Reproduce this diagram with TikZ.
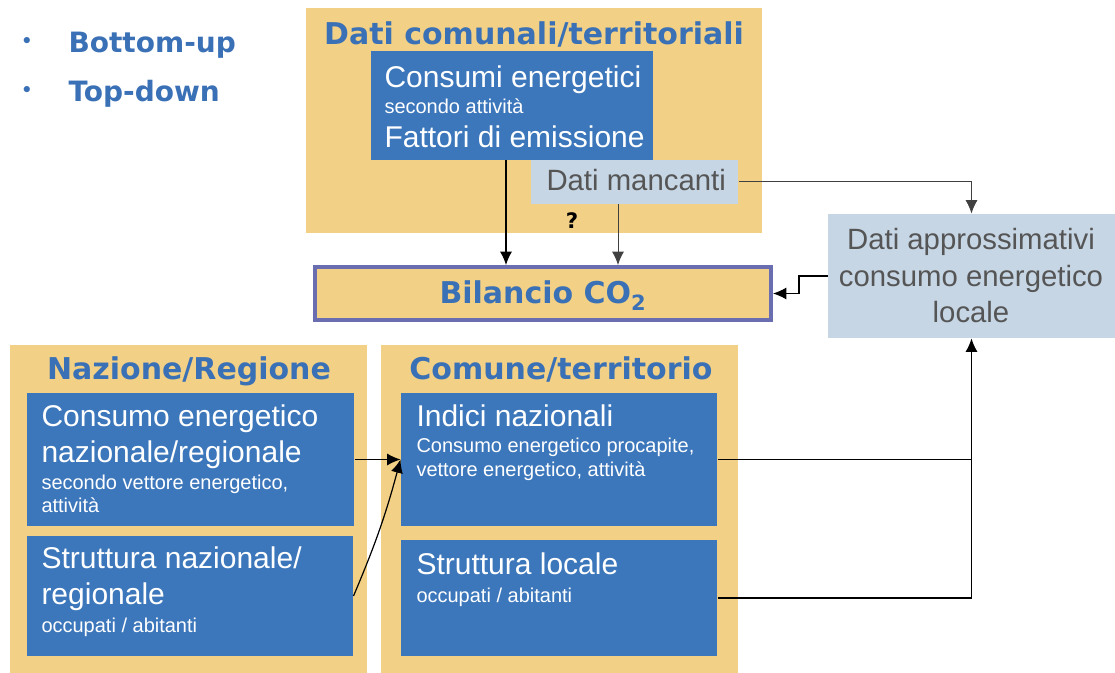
\documentclass[tikz,border=0pt]{standalone}
\usepackage{fontspec}
\setmainfont{Liberation Sans}
\newfontfamily\verdfont{DejaVu Sans}
\usetikzlibrary{fit,arrows.meta}

\definecolor{panelyellow}{RGB}{242,208,134}
\definecolor{boxblue}{RGB}{60,119,187}
\definecolor{headblue}{RGB}{58,112,181}
\definecolor{paleblue}{RGB}{198,214,229}
\definecolor{greytxt}{RGB}{85,85,85}
\definecolor{frameviolet}{RGB}{106,110,176}

\tikzset{every picture/.style={line width=0.75pt}}
\tikzset{
  panel/.style={fill=panelyellow, inner sep=0pt},
  bluebox/.style={fill=boxblue, inner sep=0pt},
  palebox/.style={fill=paleblue, inner sep=0pt},
  headtext/.style={anchor=base, inner sep=0.75pt, text=headblue,
    font=\verdfont\bfseries\fontsize{22.5}{27}\selectfont},
  bigtext/.style={anchor=base west, inner sep=0.75pt, text=white,
    font=\fontsize{22.5}{27}\selectfont},
  smalltext/.style={anchor=base west, inner sep=0.75pt, text=white,
    font=\fontsize{15}{18}\selectfont},
  greytext/.style={anchor=base, inner sep=0.75pt, text=greytxt,
    font=\fontsize{22}{27}\selectfont},
  listtext/.style={anchor=base west, inner sep=0.75pt, text=headblue,
    font=\verdfont\bfseries\fontsize{21}{25}\selectfont},
  listdot/.style={text=headblue, inner sep=0pt,
    font=\verdfont\fontsize{16}{16}\selectfont},
  flow/.style={-{Latex[length=10pt,width=9pt]}, draw=black, line width=0.9pt},
  thinflow/.style={-{Latex[length=10pt,width=9pt]}, draw=black!75, line width=0.75pt},
}

\begin{document}
\begin{tikzpicture}[x=0.75pt,y=0.75pt,yscale=-1,xscale=1]
\useasboundingbox (0,0) rectangle (1115,673);

% Bullet list
\node [listdot] (dotone) at (27,43) {•};
\node [listdot] (dottwo) at (27,92) {•};
\node [listtext] (bottomup) at (67,53) {Bottom-up};
\node [listtext] (topdown) at (67,102) {Top-down};

%Shape: Rectangle [dati comunali]
\node [panel, fit={(306,8) (762,233)}] (comunali) {};
% Text Node
\node [headtext] (comunalititle) at (534,45) {Dati comunali/territoriali};
%Shape: Rectangle [consumi]
\node [bluebox, fit={(371,51) (653,160)}] (consumi) {};
% Text Node
\node [bigtext] (consumione) at (383,87.5) {Consumi energetici};
\node [smalltext] (consumitwo) at (383,114) {secondo attività};
\node [bigtext] (consumithree) at (383,148) {Fattori di emissione};
%Shape: Rectangle [dati mancanti]
\node [palebox, fit={(531,160) (738,204)}] (mancanti) {};
% Text Node
\node [greytext, anchor=base west] (mancantitext) at (545,191) {Dati mancanti};
% Text Node
\node [anchor=base, inner sep=0.75pt, font=\verdfont\bfseries\fontsize{16}{18}\selectfont] (quest) at (572,229) {?};

%Shape: Rectangle [bilancio]
\node [fill=panelyellow, draw=frameviolet, line width=3pt, inner sep=0pt,
  fit={(315,267) (771,320)}] (bilancio) {};
% Text Node
\node [headtext] (bilanciotext) at (543,304) {Bilancio CO\textsubscript{2}};

%Shape: Rectangle [dati approssimativi]
\node [palebox, fit={(828,214) (1115,338)}] (approx) {};
% Text Node
\node [greytext] (approxone) at (971,250) {Dati approssimativi};
\node [greytext] (approxtwo) at (971,287) {consumo energetico};
\node [greytext] (approxthree) at (971,323) {locale};

%Shape: Rectangle [nazione]
\node [panel, fit={(10,345) (367,673)}] (nazione) {};
% Text Node
\node [headtext] (nazionetitle) at (189,380) {Nazione/Regione};
%Shape: Rectangle [consumo naz]
\node [bluebox, fit={(27,393) (354,526)}] (consnaz) {};
% Text Node
\node [bigtext] (consnazone) at (40,427) {Consumo energetico};
\node [bigtext] (consnaztwo) at (40,463) {nazionale/regionale};
\node [smalltext] (consnazthree) at (40,490) {secondo vettore energetico,};
\node [smalltext] (consnazfour) at (40,513) {attività};
%Shape: Rectangle [struttura naz]
\node [bluebox, fit={(27,536) (353,656)}] (strutnaz) {};
% Text Node
\node [bigtext] (strutnazone) at (40,569) {Struttura nazionale/};
\node [bigtext] (strutnaztwo) at (40,605) {regionale};
\node [smalltext] (strutnazthree) at (40,633) {occupati / abitanti};

%Shape: Rectangle [comune]
\node [panel, fit={(381,345) (738,673)}] (comune) {};
% Text Node
\node [headtext] (comunetitle) at (561,380) {Comune/territorio};
%Shape: Rectangle [indici]
\node [bluebox, fit={(401,393) (717,526)}] (indici) {};
% Text Node
\node [bigtext] (indicione) at (415,427) {Indici nazionali};
\node [smalltext] (indicitwo) at (415,453) {Consumo energetico procapite,};
\node [smalltext] (indicithree) at (415,477) {vettore energetico, attività};
%Shape: Rectangle [struttura locale]
\node [bluebox, fit={(401,540) (717,656)}] (strutloc) {};
% Text Node
\node [bigtext] (strutlocone) at (415,575) {Struttura locale};
\node [smalltext] (struttloctwo) at (415,603) {occupati / abitanti};

%Connectors
\draw [flow] (consumi.south -| 506,0) -- (bilancio.north -| 506,0);
\draw [thinflow] (mancanti.south -| 618,0) -- (bilancio.north -| 618,0);
\draw [thinflow] (mancanti.east) -| (approx.north);
\draw [flow] (approx.west |- 0,276) -- (799,276) |- (bilancio.east);
\draw [flow] (consnaz.east) -- (indici.west);
\draw [flow] (strutnaz.east) to [bend left=4] (indici.west);
\draw [draw=black, line width=0.9pt] (indici.east) -- (indici.east -| approx.south);
\draw [flow] (strutloc.east) -| (approx.south);

\end{tikzpicture}
\end{document}
